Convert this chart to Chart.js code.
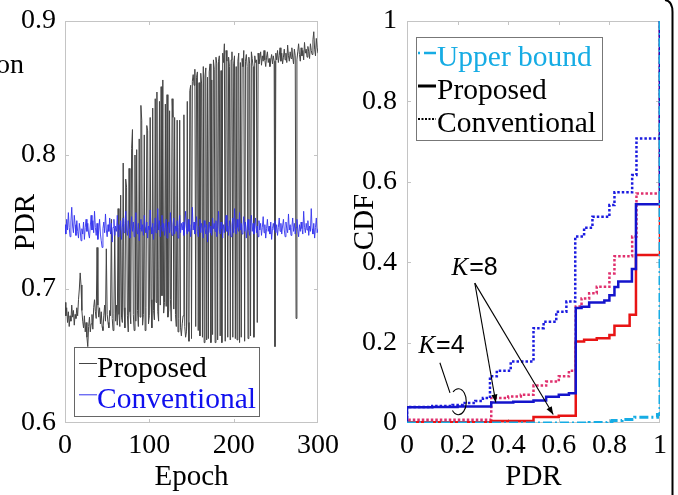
<!DOCTYPE html>
<html><head><meta charset="utf-8">
<script src="https://cdn.jsdelivr.net/npm/chart.js@4"></script>
<style>
html,body{margin:0;padding:0;background:#fff;}
#wrap{position:relative;width:678px;height:495px;overflow:hidden;background:#fff;}
#c1{position:absolute;left:0;top:0;}
#c2{position:absolute;left:340px;top:0;}
#frag{position:absolute;left:-4px;top:50px;font-family:'Liberation Serif';font-size:28px;line-height:28px;color:#000;}
</style></head><body>
<div id="wrap"><canvas id="c1" width="340" height="495"></canvas><canvas id="c2" width="338" height="495"></canvas><div id="frag">on</div></div>
<script>
// ---------- Left panel data (PDR per epoch) ----------
const proposedPDR = [
0.690,0.680,0.686,0.675,0.683,0.672,0.680,0.676,0.688,0.679,
0.684,0.673,0.681,0.678,0.686,0.680,0.692,0.700,0.712,0.703,
0.684,0.676,0.671,0.680,0.668,0.675,0.664,0.657,0.672,0.679,
0.668,0.674,0.681,0.670,0.686,0.692,0.683,0.678,0.731,0.688,
0.679,0.686,0.674,0.683,0.672,0.669,0.680,0.688,0.676,0.730,
0.681,0.675,0.671,0.684,0.680,0.752,0.678,0.669,0.682,0.745,
0.676,0.688,0.673,0.760,0.681,0.672,0.770,0.679,0.675,0.794,
0.686,0.671,0.782,0.776,0.680,0.668,0.790,0.683,0.674,0.805,
0.819,0.681,0.669,0.800,0.676,0.804,0.684,0.672,0.812,0.679,
0.837,0.826,0.673,0.681,0.815,0.669,0.686,0.822,0.818,0.674,
0.680,0.828,0.692,0.671,0.835,0.684,0.677,0.842,0.690,0.847,
0.683,0.676,0.840,0.688,0.851,0.695,0.856,0.682,0.690,0.838,
0.687,0.845,0.679,0.684,0.833,0.692,0.676,0.842,0.828,0.685,
0.828,0.681,0.672,0.826,0.668,0.678,0.826,0.671,0.665,0.674,
0.680,0.830,0.672,0.664,0.668,0.840,0.675,0.661,0.848,0.852,
0.663,0.855,0.860,0.852,0.864,0.672,0.858,0.862,0.669,0.854,
0.665,0.861,0.853,0.664,0.866,0.660,0.859,0.865,0.662,0.858,
0.663,0.862,0.868,0.660,0.856,0.666,0.871,0.864,0.660,0.873,
0.868,0.662,0.870,0.874,0.665,0.863,0.660,0.876,0.869,0.883,
0.661,0.878,0.870,0.664,0.873,0.866,0.662,0.871,0.877,0.664,
0.868,0.874,0.663,0.866,0.662,0.870,0.876,0.660,0.869,0.664,
0.872,0.866,0.878,0.661,0.870,0.875,0.866,0.663,0.873,0.868,
0.665,0.877,0.872,0.866,0.664,0.874,0.869,0.871,0.675,0.876,
0.868,0.872,0.877,0.867,0.874,0.870,0.878,0.871,0.866,0.873,
0.877,0.869,0.872,0.866,0.871,0.875,0.868,0.874,0.870,0.657,
0.876,0.871,0.878,0.869,0.874,0.880,0.870,0.876,0.868,0.873,
0.879,0.871,0.876,0.869,0.882,0.874,0.870,0.877,0.872,0.880,
0.873,0.868,0.879,0.874,0.678,0.871,0.877,0.883,0.875,0.870,
0.880,0.874,0.878,0.871,0.884,0.876,0.879,0.873,0.881,0.877,
0.872,0.883,0.878,0.875,0.886,0.892,0.879,0.874,0.887,0.880,
0.876];
const conventionalPDR = [
0.748,0.741,0.752,0.744,0.757,0.746,0.739,0.750,0.761,0.747,
0.742,0.755,0.748,0.740,0.751,0.743,0.738,0.749,0.744,0.736,
0.745,0.741,0.750,0.737,0.746,0.752,0.743,0.749,0.741,0.738,
0.747,0.755,0.744,0.751,0.742,0.758,0.746,0.740,0.749,0.737,
0.744,0.752,0.741,0.736,0.731,0.745,0.750,0.742,0.756,0.744,
0.739,0.748,0.743,0.753,0.741,0.749,0.735,0.746,0.752,0.740,
0.747,0.743,0.755,0.739,0.748,0.744,0.751,0.737,0.746,0.753,
0.742,0.749,0.758,0.744,0.740,0.751,0.745,0.738,0.747,0.754,
0.743,0.750,0.739,0.746,0.757,0.744,0.741,0.749,0.736,0.745,
0.752,0.743,0.748,0.740,0.755,0.746,0.742,0.750,0.738,0.747,
0.744,0.759,0.746,0.741,0.749,0.737,0.745,0.753,0.742,0.748,
0.760,0.744,0.751,0.739,0.747,0.755,0.743,0.749,0.740,0.746,
0.752,0.738,0.745,0.750,0.742,0.757,0.744,0.740,0.748,0.753,
0.741,0.747,0.743,0.751,0.738,0.746,0.755,0.742,0.749,0.744,
0.750,0.740,0.747,0.758,0.745,0.741,0.752,0.743,0.748,0.739,
0.746,0.761,0.744,0.750,0.741,0.748,0.754,0.743,0.739,0.747,
0.752,0.742,0.749,0.745,0.738,0.751,0.746,0.741,0.748,0.735,
0.744,0.750,0.742,0.747,0.740,0.753,0.745,0.749,0.743,0.751,
0.739,0.746,0.758,0.744,0.741,0.750,0.745,0.738,0.748,0.742,
0.749,0.755,0.743,0.747,0.740,0.751,0.744,0.739,0.748,0.753,
0.742,0.760,0.745,0.741,0.752,0.746,0.743,0.757,0.744,0.749,
0.741,0.747,0.754,0.743,0.750,0.738,0.746,0.752,0.744,0.740,
0.748,0.755,0.743,0.749,0.741,0.746,0.753,0.742,0.747,0.739,
0.751,0.744,0.749,0.740,0.746,0.754,0.742,0.748,0.738,0.745,
0.752,0.743,0.747,0.741,0.750,0.737,0.745,0.749,0.744,0.751,
0.742,0.748,0.740,0.746,0.753,0.743,0.749,0.741,0.747,0.752,
0.744,0.739,0.750,0.745,0.742,0.756,0.744,0.748,0.740,0.746,
0.753,0.743,0.749,0.741,0.746,0.752,0.744,0.739,0.748,0.743,
0.750,0.745,0.741,0.758,0.746,0.742,0.749,0.744,0.751,0.740,
0.747,0.743,0.760,0.745,0.741,0.749,0.738,0.746,0.753,0.742,
0.745];
const epochs = proposedPDR.map((_, i) => i);
const leftXTicks = [0, 100, 200, 300];
const leftXTickLabels = ['0', '100', '200', '300'];
const leftYTicks = [0.6, 0.7, 0.8, 0.9];
const leftYTickLabels = ['0.6', '0.7', '0.8', '0.9'];
const leftLegendLabels = ['Proposed', 'Conventional'];

// ---------- Right panel data (CDF of PDR, step points) ----------
const upperPDR = [0, 0.72, 0.79, 0.81, 0.85, 0.90, 0.99, 1];
const upperCDF = [0, 0.001, 0.003, 0.006, 0.009, 0.014, 0.021, 1];
const propK4PDR = [0, 0, 0.10, 0.20, 0.333, 0.42, 0.50, 0.55, 0.60, 0.64, 0.667, 0.69, 0.72, 0.78, 0.80, 0.82, 0.835, 0.889, 0.905, 1];
const propK4CDF = [0, 0.039, 0.040, 0.041, 0.051, 0.053, 0.056, 0.065, 0.070, 0.074, 0.286, 0.289, 0.300, 0.305, 0.318, 0.338, 0.352, 0.383, 0.544, 1];
const propK8PDR = [0, 0, 0.333, 0.50, 0.60, 0.667, 0.70, 0.75, 0.80, 0.82, 0.88, 0.905, 1];
const propK8CDF = [0, 0.002, 0.005, 0.015, 0.018, 0.203, 0.207, 0.211, 0.219, 0.242, 0.269, 0.418, 1];
const convK4PDR = [0, 0, 0.10, 0.18, 0.22, 0.27, 0.30, 0.328, 0.355, 0.41, 0.50, 0.54, 0.59, 0.63, 0.665, 0.70, 0.733, 0.80, 0.82, 0.89, 0.907, 1];
const convK4CDF = [0, 0.040, 0.042, 0.045, 0.050, 0.055, 0.062, 0.116, 0.130, 0.153, 0.236, 0.252, 0.277, 0.302, 0.464, 0.486, 0.513, 0.542, 0.574, 0.617, 0.708, 1];
const convK8PDR = [0, 0, 0.333, 0.40, 0.45, 0.50, 0.55, 0.60, 0.64, 0.667, 0.69, 0.72, 0.75, 0.80, 0.82, 0.89, 0.907, 1];
const convK8CDF = [0, 0.008, 0.062, 0.066, 0.070, 0.093, 0.103, 0.116, 0.130, 0.290, 0.310, 0.323, 0.339, 0.372, 0.415, 0.464, 0.571, 1];
const rightTicks = [0, 0.2, 0.4, 0.6, 0.8, 1];
const rightTickLabels = ['0', '0.2', '0.4', '0.6', '0.8', '1'];
const rightLegendLabels = ['Upper bound', 'Proposed', 'Conventional'];
const annotationLabels = ['K', '=8', '=4'];

// ---------- helpers ----------
const pts = (xs, ys) => xs.map((x, i) => ({x: x, y: ys[i]}));
const SERIF = "'Liberation Serif', 'Times New Roman', serif";

function fixedAxis(size) {
  return function (scale) {
    scale.paddingLeft = 0; scale.paddingRight = 0; scale.paddingTop = 0; scale.paddingBottom = 0;
    if (scale.isHorizontal()) scale.height = size; else scale.width = size;
  };
}
function tickCallback(values, labels) {
  return function (v) { const i = values.findIndex(t => Math.abs(t - v) < 1e-9); return i >= 0 ? labels[i] : ''; };
}
function tickBuilder(values) {
  return function (scale) { scale.ticks = values.map(v => ({value: v})); };
}

const framePlugin = {
  id: 'frame',
  beforeDatasetsDraw(chart, args, o) {
    const ctx = chart.ctx, a = chart.chartArea, xs = chart.scales.x, ys = chart.scales.y;
    ctx.save();
    ctx.strokeStyle = '#c4c4c4'; ctx.lineWidth = 1;
    ctx.strokeRect(Math.round(a.left) + 0.5, Math.round(a.top) + 0.5, Math.round(a.right - a.left) - 1, Math.round(a.bottom - a.top) - 1);
    ctx.beginPath();
    o.xt.slice(1, -1).forEach(v => {
      const p = Math.round(xs.getPixelForValue(v)) + 0.5;
      ctx.moveTo(p, a.bottom); ctx.lineTo(p, a.bottom - 4);
      ctx.moveTo(p, a.top); ctx.lineTo(p, a.top + 4);
    });
    o.yt.slice(1, -1).forEach(v => {
      const p = Math.round(ys.getPixelForValue(v)) + 0.5;
      ctx.moveTo(a.left, p); ctx.lineTo(a.left + 4, p);
      ctx.moveTo(a.right, p); ctx.lineTo(a.right - 4, p);
    });
    ctx.stroke();
    ctx.restore();
  }
};

const boxLegend = {
  id: 'boxLegend',
  afterDatasetsDraw(chart, args, o) {
    const ctx = chart.ctx, a = chart.chartArea;
    const L = Math.round(a.left + o.dx), T = Math.round(a.top + o.dy);
    ctx.save();
    ctx.fillStyle = '#fff'; ctx.fillRect(L, T, o.w, o.h);
    ctx.strokeStyle = o.border; ctx.lineWidth = 1; ctx.strokeRect(L + 0.5, T + 0.5, o.w - 1, o.h - 1);
    ctx.font = o.fontSize + 'px ' + SERIF; ctx.textBaseline = 'alphabetic'; ctx.textAlign = 'left';
    o.items.forEach((it, i) => {
      const base = T + o.firstBase + i * o.rowGap;
      ctx.strokeStyle = it.lineColor; ctx.lineWidth = it.lw; ctx.setLineDash(it.dash || []);
      ctx.beginPath(); ctx.moveTo(L + o.sx0, base - o.sy); ctx.lineTo(L + o.sx1, base - o.sy); ctx.stroke();
      ctx.setLineDash([]);
      ctx.fillStyle = it.textColor; ctx.fillText(it.text, L + o.tx, base);
    });
    ctx.restore();
  }
};

function arrow(ctx, x0, y0, x1, y1) {
  ctx.beginPath(); ctx.moveTo(x0, y0); ctx.lineTo(x1, y1); ctx.stroke();
  const ang = Math.atan2(y1 - y0, x1 - x0), len = 8, w = 3;
  ctx.beginPath();
  ctx.moveTo(x1, y1);
  ctx.lineTo(x1 - len * Math.cos(ang) + w * Math.sin(ang), y1 - len * Math.sin(ang) - w * Math.cos(ang));
  ctx.lineTo(x1 - len * Math.cos(ang) - w * Math.sin(ang), y1 - len * Math.sin(ang) + w * Math.cos(ang));
  ctx.closePath(); ctx.fill();
}
function drawK(ctx, suffix, x, y) {
  ctx.font = 'italic 25px ' + SERIF;
  ctx.fillText(annotationLabels[0], x, y);
  const w = ctx.measureText(annotationLabels[0]).width;
  ctx.font = "25px 'Liberation Sans', Arial, sans-serif";
  ctx.fillText(suffix, x + w + 1, y);
}
const annotPlugin = {
  id: 'annot',
  afterDatasetsDraw(chart) {
    const ctx = chart.ctx, xs = chart.scales.x, ys = chart.scales.y;
    const px = v => xs.getPixelForValue(v), py = v => ys.getPixelForValue(v);
    ctx.save();
    ctx.fillStyle = '#000'; ctx.strokeStyle = '#000'; ctx.lineWidth = 1.1;
    ctx.textBaseline = 'alphabetic'; ctx.textAlign = 'left';
    drawK(ctx, annotationLabels[1], px(0.176), py(0.368));
    drawK(ctx, annotationLabels[2], px(0.045), py(0.174));
    arrow(ctx, px(0.268), py(0.348), px(0.351), py(0.051));
    arrow(ctx, px(0.268), py(0.348), px(0.578), py(0.021));
    ctx.beginPath(); ctx.moveTo(px(0.130), py(0.150)); ctx.lineTo(px(0.170), py(0.075)); ctx.stroke();
    ctx.beginPath(); ctx.ellipse(px(0.203), py(0.053), 8, 13, 0, -2.3, 2.4, false); ctx.stroke();
    ctx.restore();
  }
};
const edgePlugin = {
  id: 'edge',
  afterDraw(chart) {
    const ctx = chart.ctx;
    ctx.save();
    ctx.strokeStyle = '#000'; ctx.lineWidth = 2;
    ctx.beginPath(); ctx.moveTo(332.5, 495); ctx.lineTo(332.5, 12); ctx.quadraticCurveTo(332.5, 1, 325, 0); ctx.stroke();
    ctx.restore();
  }
};

Chart.defaults.font.family = SERIF;
Chart.defaults.color = '#000';

// ---------- Left chart ----------
new Chart(document.getElementById('c1'), {
  type: 'line',
  data: {
    labels: epochs,
    datasets: [
      {label: leftLegendLabels[1], data: conventionalPDR, borderColor: '#3333ee', borderWidth: 0.9, pointRadius: 0, tension: 0},
      {label: leftLegendLabels[0], data: proposedPDR, borderColor: '#444444', borderWidth: 1, pointRadius: 0, tension: 0}
    ]
  },
  options: {
    responsive: false, animation: false, devicePixelRatio: 1,
    layout: {padding: {left: 0, right: 22, top: 21, bottom: 0}},
    plugins: {
      legend: {display: false}, tooltip: {enabled: false},
      frame: {xt: leftXTicks, yt: leftYTicks},
      boxLegend: {dx: 9, dy: 326, w: 186, h: 70, border: '#666', fontSize: 29.5, firstBase: 30, rowGap: 31.3,
        sx0: 5, sx1: 23, sy: 13.5, tx: 23,
        items: [
          {text: leftLegendLabels[0], textColor: '#000', lineColor: '#444444', lw: 1},
          {text: leftLegendLabels[1], textColor: '#1010ee', lineColor: '#3333ee', lw: 1}
        ]}
    },
    scales: {
      x: {type: 'linear', min: 0, max: 300, afterFit: fixedAxis(72), afterBuildTicks: tickBuilder(leftXTicks),
        grid: {display: false, drawTicks: false}, border: {display: false},
        ticks: {font: {size: 28}, padding: 6, maxRotation: 0, callback: tickCallback(leftXTicks, leftXTickLabels)},
        title: {display: true, text: 'Epoch', font: {size: 29}, padding: {top: 0, bottom: 0}}},
      y: {type: 'linear', min: 0.6, max: 0.9, afterFit: fixedAxis(65), afterBuildTicks: tickBuilder(leftYTicks),
        grid: {display: false, drawTicks: false}, border: {display: false},
        ticks: {font: {size: 28}, padding: 9, callback: tickCallback(leftYTicks, leftYTickLabels)},
        title: {display: true, text: 'PDR', font: {size: 29}, padding: {top: 8.6, bottom: 0}}}
    }
  },
  plugins: [framePlugin, boxLegend]
});

// ---------- Right chart ----------
const ds = (label, xs, ys, color, width, dash) => ({
  label: label, data: pts(xs, ys), borderColor: color, borderWidth: width, borderDash: dash,
  pointRadius: 0, stepped: true, tension: 0
});
new Chart(document.getElementById('c2'), {
  type: 'line',
  data: {
    datasets: [
      ds(rightLegendLabels[0], upperPDR, upperCDF, '#16ace4', 3, [9, 3, 2, 3]),
      ds(rightLegendLabels[1] + ' K=4', propK4PDR, propK4CDF, '#1414cc', 2.5, []),
      ds(rightLegendLabels[1] + ' K=8', propK8PDR, propK8CDF, '#e81414', 2.5, []),
      ds(rightLegendLabels[2] + ' K=4', convK4PDR, convK4CDF, '#1c1ce0', 2.5, [2.5, 2]),
      ds(rightLegendLabels[2] + ' K=8', convK8PDR, convK8CDF, '#e0306e', 2.5, [2.5, 2])
    ]
  },
  options: {
    responsive: false, animation: false, devicePixelRatio: 1,
    layout: {padding: {left: 0, right: 18, top: 21, bottom: 0}},
    plugins: {
      legend: {display: false}, tooltip: {enabled: false},
      frame: {xt: rightTicks, yt: rightTicks},
      boxLegend: {dx: 9, dy: 16, w: 187, h: 104, border: '#777', fontSize: 29.5, firstBase: 29, rowGap: 33,
        sx0: 2, sx1: 20, sy: 13, tx: 21,
        items: [
          {text: rightLegendLabels[0], textColor: '#16ace4', lineColor: '#16ace4', lw: 2.5, dash: [2, 4, 12, 0]},
          {text: rightLegendLabels[1], textColor: '#000', lineColor: '#000', lw: 3},
          {text: rightLegendLabels[2], textColor: '#000', lineColor: '#000', lw: 2, dash: [2, 1.5]}
        ]}
    },
    scales: {
      x: {type: 'linear', min: 0, max: 1, afterFit: fixedAxis(72), afterBuildTicks: tickBuilder(rightTicks),
        grid: {display: false, drawTicks: false}, border: {display: false},
        ticks: {font: {size: 28}, padding: 6, maxRotation: 0, callback: tickCallback(rightTicks, rightTickLabels)},
        title: {display: true, text: 'PDR', font: {size: 29}, padding: {top: 0, bottom: 0}}},
      y: {type: 'linear', min: 0, max: 1, afterFit: fixedAxis(67), afterBuildTicks: tickBuilder(rightTicks),
        grid: {display: false, drawTicks: false}, border: {display: false},
        ticks: {font: {size: 28}, padding: 10, callback: tickCallback(rightTicks, rightTickLabels)},
        title: {display: true, text: 'CDF', font: {size: 29}, padding: {top: 8.4, bottom: 0}}}
    }
  },
  plugins: [framePlugin, boxLegend, annotPlugin, edgePlugin]
});
</script>
</body></html>
